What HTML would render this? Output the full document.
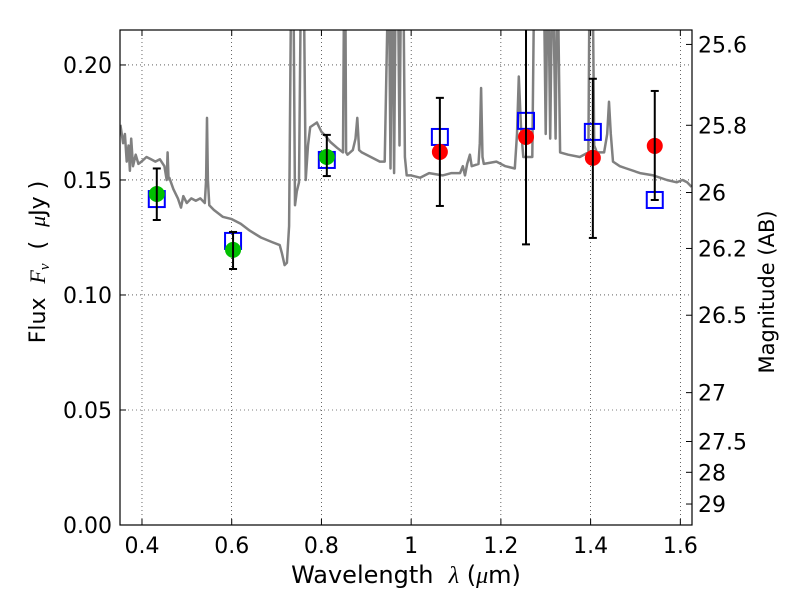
<!DOCTYPE html>
<html><head><meta charset="utf-8"><style>
body{margin:0;background:#fff;}
svg{display:block;font-family:"DejaVu Sans","Liberation Sans",sans-serif;}
</style></head><body>
<svg id="chart" width="800" height="600" xmlns="http://www.w3.org/2000/svg"></svg>
<script>
const xTicks=[0.4,0.6,0.8,1.0,1.2,1.4,1.6];
const xTickLabels=["0.4","0.6","0.8","1","1.2","1.4","1.6"];
const yTicks=[0,0.05,0.10,0.15,0.20];
const yTickLabels=["0.00","0.05","0.10","0.15","0.20"];
const magTicks=[25.6,25.8,26,26.2,26.5,27,27.5,28,29];
const magLabels=["25.6","25.8","26","26.2","26.5","27","27.5","28","29"];
const specLam=[0.352,0.358,0.362,0.366,0.370,0.373,0.376,0.380,0.386,0.392,0.399,0.41,0.42,0.43,0.44,0.45,0.455,0.457,0.459,0.461,0.47,0.48,0.487,0.492,0.50,0.51,0.52,0.53,0.54,0.543,0.545,0.547,0.55,0.56,0.58,0.60,0.62,0.64,0.665,0.69,0.707,0.712,0.718,0.723,0.728,0.733,0.737,0.741,0.745,0.750,0.755,0.760,0.765,0.770,0.775,0.79,0.80,0.81,0.82,0.835,0.848,0.851,0.853,0.855,0.858,0.87,0.876,0.880,0.884,0.89,0.91,0.93,0.941,0.950,0.954,0.958,0.962,0.966,0.970,0.974,0.978,0.982,0.986,0.990,1.0,1.020,1.04,1.07,1.09,1.109,1.115,1.12,1.125,1.131,1.135,1.150,1.153,1.156,1.159,1.162,1.19,1.21,1.231,1.236,1.240,1.245,1.25,1.254,1.270,1.275,1.295,1.300,1.305,1.31,1.315,1.322,1.326,1.332,1.35,1.376,1.395,1.398,1.404,1.408,1.414,1.43,1.437,1.441,1.445,1.450,1.465,1.480,1.51,1.54,1.570,1.592,1.605,1.615,1.625];
const specFlux=[0.174,0.166,0.170,0.158,0.165,0.154,0.168,0.156,0.161,0.157,0.158,0.160,0.159,0.158,0.159,0.156,0.150,0.162,0.151,0.151,0.146,0.142,0.138,0.143,0.140,0.142,0.141,0.142,0.140,0.150,0.177,0.150,0.139,0.137,0.134,0.133,0.131,0.128,0.125,0.123,0.1217,0.118,0.113,0.114,0.130,0.25,0.25,0.139,0.145,0.149,0.25,0.25,0.150,0.165,0.173,0.175,0.171,0.169,0.1665,0.164,0.162,0.25,0.25,0.162,0.161,0.163,0.168,0.177,0.163,0.162,0.160,0.158,0.158,0.25,0.155,0.25,0.153,0.25,0.25,0.165,0.25,0.25,0.160,0.152,0.152,0.151,0.153,0.152,0.153,0.153,0.156,0.152,0.157,0.161,0.156,0.157,0.166,0.190,0.160,0.157,0.158,0.156,0.155,0.170,0.195,0.172,0.160,0.160,0.160,0.25,0.25,0.170,0.25,0.168,0.25,0.168,0.25,0.162,0.161,0.160,0.162,0.25,0.25,0.165,0.162,0.162,0.170,0.184,0.170,0.158,0.156,0.155,0.153,0.152,0.150,0.149,0.150,0.149,0.147,0.143];
const bands=[0.433,0.603,0.812,1.064,1.256,1.405,1.543];
const obsFlux=[0.1439,0.1196,0.160,0.1622,0.1687,0.1596,0.1648];
const errHi=[0.155,0.1274,0.1696,0.1857,0.225,0.194,0.1887];
const errLo=[0.1326,0.1113,0.1517,0.1387,0.122,0.1248,0.1413];
const modelFlux=[0.1417,0.1235,0.1587,0.1687,0.1757,0.1709,0.1413];
const obsColors=["#00c000","#00c000","#00c000","#ff0000","#ff0000","#ff0000","#ff0000"];

const L=120,R=692,T=30,B=525;
const xmin=0.351,xmax=1.626,ymin=0,ymax=0.2152;
const X=v=>L+(v-xmin)/(xmax-xmin)*(R-L);
const Y=v=>B-(v-ymin)/(ymax-ymin)*(B-T);
const magToFlux=m=>Math.pow(10,(23.9-m)/2.5);
const svg=document.getElementById('chart');
const NS="http://www.w3.org/2000/svg";
function mk(tag,attrs,parent){const e=document.createElementNS(NS,tag);for(const k in attrs)e.setAttribute(k,attrs[k]);(parent||svg).appendChild(e);return e;}

const defs=mk('defs',{});
const cp=mk('clipPath',{id:'clip'},defs);mk('rect',{x:L,y:T,width:R-L,height:B-T},cp);

const grid=mk('g',{});


xTicks.forEach(v=>mk('line',{x1:X(v),x2:X(v),y1:T,y2:B,stroke:'#000','stroke-width':0.6,'stroke-dasharray':'1,3'},grid));
yTicks.forEach(v=>mk('line',{x1:L,x2:R,y1:Y(v),y2:Y(v),stroke:'#000','stroke-width':0.6,'stroke-dasharray':'1,3'},grid));

const plot=mk('g',{'clip-path':'url(#clip)'});
let d='';specLam.forEach((l,i)=>{d+=(i?'L':'M')+X(l).toFixed(1)+','+Y(specFlux[i]).toFixed(1);});
const sp=mk('path',{d:d,fill:'none',stroke:'#808080','stroke-width':2.5,'stroke-linejoin':'round'},plot);



bands.forEach((b,i)=>{
  const sq=mk('rect',{x:X(b)-8,y:Y(modelFlux[i])-8,width:16,height:16,fill:'none',stroke:'#0000ff','stroke-width':2},plot);
  
  
  const c=mk('circle',{cx:X(b),cy:Y(obsFlux[i]),r:8,fill:obsColors[i]},plot);
  
  
  const g=mk('g',{stroke:'#000','stroke-width':2},plot);
  
  
  mk('line',{x1:X(b),x2:X(b),y1:Y(errHi[i]),y2:Y(errLo[i])},g);
  mk('line',{x1:X(b)-4,x2:X(b)+4,y1:Y(errHi[i]),y2:Y(errHi[i])},g);
  mk('line',{x1:X(b)-4,x2:X(b)+4,y1:Y(errLo[i]),y2:Y(errLo[i])},g);
});

const frame=mk('rect',{x:L,y:T,width:R-L,height:B-T,fill:'none',stroke:'#000','stroke-width':1.2});



xTicks.forEach((v,i)=>{
  mk('line',{x1:X(v),x2:X(v),y1:B,y2:B-6,stroke:'#000'});mk('line',{x1:X(v),x2:X(v),y1:T,y2:T+6,stroke:'#000'});
  const t=mk('text',{x:X(v),y:B+28,'text-anchor':'middle','font-size':22});t.textContent=xTickLabels[i];
  
  
});
yTicks.forEach((v,i)=>{
  mk('line',{x1:L,x2:L+6,y1:Y(v),y2:Y(v),stroke:'#000'});
  const t=mk('text',{x:L-8,y:Y(v)+8,'text-anchor':'end','font-size':22});t.textContent=yTickLabels[i];
  
  
});
magTicks.forEach((m,i)=>{
  const y=Y(magToFlux(m));
  mk('line',{x1:R,x2:R-6,y1:y,y2:y,stroke:'#000'});
  const t=mk('text',{x:R+6,y:y+8,'font-size':22});t.textContent=magLabels[i];
  
  
});
const xl=mk('text',{x:406,y:583,'text-anchor':'middle','font-size':24});
xl.innerHTML='Wavelength&#160; <tspan font-style="italic" font-family="Liberation Serif,serif">λ</tspan> (<tspan font-style="italic" font-family="Liberation Serif,serif">μ</tspan>m)';


const yl=mk('text',{x:45,y:262,'text-anchor':'middle','font-size':22,transform:'rotate(-90 45 262)'});
yl.innerHTML='Flux&#160; <tspan font-style="italic" font-family="Liberation Serif,serif">F<tspan font-size="15" dy="4">ν</tspan></tspan><tspan dy="-4">&#160; (&#160; </tspan><tspan font-style="italic" font-family="Liberation Serif,serif">μ</tspan>Jy )';


const rl=mk('text',{x:774,y:292,'text-anchor':'middle','font-size':21,transform:'rotate(-90 774 292)'});
rl.textContent='Magnitude (AB)';


</script>
</body></html>
